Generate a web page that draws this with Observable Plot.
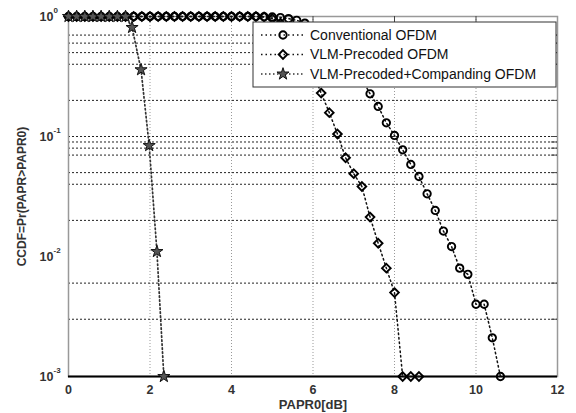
<!DOCTYPE html>
<html>
<head>
<meta charset="utf-8">
<script src="https://cdn.jsdelivr.net/npm/d3@7"></script>
<script src="https://cdn.jsdelivr.net/npm/@observablehq/plot@0.6"></script>
<style>
  html, body { margin: 0; padding: 0; background: #fff; }
  svg { display: block; }
</style>
</head>
<body>
<div id="chart"></div>
<script>
// Series names (legend order)
const seriesNames = ["Conventional OFDM", "VLM-Precoded OFDM", "VLM-Precoded+Companding OFDM"];

// Conventional OFDM: PAPR0 (dB) and CCDF
const convPapr = [0, 0.2, 0.4, 0.6, 0.8, 1.0, 1.2, 1.4, 1.6, 1.8, 2.0, 2.2, 2.4, 2.6, 2.8, 3.0, 3.2, 3.4, 3.6, 3.8,
  4.0, 4.2, 4.4, 4.6, 4.8, 5.0, 5.2, 5.4, 5.6, 5.8, 6.0, 6.2, 6.4, 6.6, 6.8, 7.0, 7.2, 7.4, 7.6, 7.8,
  8.0, 8.2, 8.4, 8.6, 8.8, 9.0, 9.2, 9.4, 9.6, 9.8, 10.0, 10.2, 10.4, 10.6];
const convCcdf = [1, 1, 1, 1, 1, 1, 1, 1, 1, 1, 1, 1, 1, 1, 1, 1, 1, 1, 1, 1,
  1, 1, 1, 1, 0.995, 0.99, 0.98, 0.96, 0.93, 0.88, 0.81, 0.73, 0.64, 0.54, 0.45, 0.37, 0.30, 0.227, 0.178, 0.130,
  0.102, 0.0775, 0.0585, 0.0464, 0.0333, 0.0242, 0.0163, 0.0121, 0.0080, 0.0071, 0.0040, 0.0040, 0.0021, 0.001];

// VLM-Precoded OFDM
const vlmPapr = [0, 0.2, 0.4, 0.6, 0.8, 1.0, 1.2, 1.4, 1.6, 1.8, 2.0, 2.2, 2.4, 2.6, 2.8, 3.0, 3.2, 3.4, 3.6, 3.8,
  4.0, 4.2, 4.4, 4.6, 4.8, 5.0, 5.2, 5.4, 5.6, 5.8, 6.0, 6.2, 6.4, 6.6, 6.8, 7.0, 7.2, 7.4, 7.6, 7.8,
  8.0, 8.2, 8.4, 8.6];
const vlmCcdf = [1, 1, 1, 1, 1, 1, 1, 1, 1, 1, 1, 1, 1, 1, 1, 1, 1, 1, 1, 1,
  1, 1, 1, 1, 0.99, 0.96, 0.88, 0.76, 0.62, 0.47, 0.34, 0.230, 0.158, 0.105, 0.0665, 0.049, 0.0383, 0.0213, 0.0129, 0.0080,
  0.0050, 0.001, 0.001, 0.001];

// VLM-Precoded + Companding OFDM
const compPapr = [0, 0.2, 0.4, 0.6, 0.8, 1.0, 1.2, 1.4, 1.56, 1.78, 1.98, 2.17, 2.34];
const compCcdf = [1, 1, 1, 1, 1, 1, 1, 1, 0.81, 0.36, 0.084, 0.011, 0.001];

// Axis ticks and grid
const xTicks = [0, 2, 4, 6, 8, 10, 12];
const xGrid = [2, 4, 6, 8, 10];
const yTicks = [1, 0.1, 0.01, 0.001];
const yExponents = ["0", "-1", "-2", "-3"];
const yGrid = [0.7, 0.6, 0.5, 0.4, 0.2, 0.1, 0.09, 0.08, 0.07, 0.05, 0.04, 0.02, 0.006, 0.003];

const toRows = (name, xs, ys) => xs.map((p, i) => ({series: name, papr: p, ccdf: ys[i]}));
const conv = toRows(seriesNames[0], convPapr, convCcdf);
const vlm = toRows(seriesNames[1], vlmPapr, vlmCcdf);
const comp = toRows(seriesNames[2], compPapr, compCcdf);

const styles = [
  {symbol: "circle", r: 3.7, fill: "none", stroke: "#000", strokeWidth: 1.9, dash: "1.5,3", lineColor: "#111", lineWidth: 1.5},
  {symbol: "diamond2", r: 3.9, fill: "none", stroke: "#000", strokeWidth: 1.9, dash: "1.5,3", lineColor: "#111", lineWidth: 1.5},
  {symbol: "star", r: 3.8, fill: "#555", stroke: "#111", strokeWidth: 1, dash: "1.5,2.5", lineColor: "#333", lineWidth: 1.7}
];
const sets = [conv, vlm, comp];

const font = "'Liberation Sans', Arial, Helvetica, sans-serif";

const chart = Plot.plot({
  width: 576,
  height: 413,
  marginLeft: 68,
  marginRight: 19,
  marginTop: 16,
  marginBottom: 37,
  style: {fontFamily: font, background: "#fff"},
  x: {domain: [0, 12], axis: null},
  y: {type: "log", domain: [0.001, 1], axis: null},
  marks: [
    // grid
    Plot.ruleX(xGrid, {stroke: "#999", strokeWidth: 1, strokeDasharray: "1,2"}),
    Plot.ruleY(yGrid, {stroke: "#222", strokeWidth: 1, strokeDasharray: "2,2"}),
    // box
    Plot.frame({stroke: "#999", strokeWidth: 1.5}),
    Plot.ruleX(xGrid, {y1: 1, y2: 0.89, stroke: "#444"}),
    Plot.ruleY(yGrid, {x1: 11.85, x2: 12, stroke: "#444"}),
    Plot.ruleY([0.001], {stroke: "#000", strokeWidth: 2}),
    // curves
    ...sets.map((d, i) => Plot.line(d, {x: "papr", y: "ccdf", stroke: styles[i].lineColor,
      strokeWidth: styles[i].lineWidth, strokeDasharray: styles[i].dash})),
    ...sets.map((d, i) => Plot.dot(d, {x: "papr", y: "ccdf", symbol: () => styles[i].symbol, r: styles[i].r,
      fill: styles[i].fill, stroke: styles[i].stroke, strokeWidth: styles[i].strokeWidth})),
    // x tick labels
    Plot.text(xTicks, {x: d => d, frameAnchor: "bottom", dy: 13, lineAnchor: "middle", textAnchor: "middle",
      text: d => String(d), fontSize: 12.5, fontWeight: "bold", fill: "#333"}),
    // y tick labels: 10 with superscript exponent
    Plot.text(yTicks, {y: d => d, frameAnchor: "left", dx: -15, textAnchor: "end", text: () => "10",
      fontSize: 12.5, fontWeight: "bold", fill: "#333"}),
    Plot.text(yTicks, {y: d => d, frameAnchor: "left", dx: -15, dy: -6, textAnchor: "start",
      text: (d, i) => yExponents[i], fontSize: 8, fontWeight: "bold", fill: "#333"}),
    // axis titles
    Plot.text(["PAPR0[dB]"], {frameAnchor: "bottom", dy: 28, lineAnchor: "middle", textAnchor: "middle",
      fontSize: 13, fontWeight: "bold", fill: "#333", letterSpacing: "0.5px"}),
    Plot.text(["CCDF=Pr(PAPR>PAPR0)"], {frameAnchor: "left", dx: -46, rotate: -90, textAnchor: "middle",
      lineAnchor: "middle", fontSize: 12, fontWeight: "bold", fill: "#333", letterSpacing: "1.2px"})
  ]
});

document.getElementById("chart").appendChild(chart);

// Legend box in the upper right of the axes
const svg = d3.select(chart);
const lg = svg.append("g").attr("font-family", font).attr("text-anchor", "start");
const box = {x: 253, y: 22, w: 303, h: 65};
lg.append("rect").attr("x", box.x).attr("y", box.y).attr("width", box.w).attr("height", box.h)
  .attr("fill", "#fff").attr("stroke", "#333").attr("stroke-width", 1);
const rowY = [35, 54.5, 74];
seriesNames.forEach((name, i) => {
  const s = styles[i];
  const y = rowY[i];
  lg.append("line").attr("x1", 261).attr("x2", 305).attr("y1", y).attr("y2", y)
    .attr("stroke", s.lineColor).attr("stroke-width", s.lineWidth).attr("stroke-dasharray", s.dash);
  const symType = {circle: d3.symbolCircle, diamond2: d3.symbolDiamond2, star: d3.symbolStar}[s.symbol];
  lg.append("path").attr("d", d3.symbol(symType, Math.PI * s.r * s.r)())
    .attr("transform", `translate(283,${y})`)
    .attr("fill", s.fill).attr("stroke", s.stroke).attr("stroke-width", s.strokeWidth);
  lg.append("text").attr("x", 310).attr("y", y).attr("dy", "0.35em").attr("text-anchor", "start")
    .attr("font-size", 14).attr("fill", "#111").text(name);
});
</script>
</body>
</html>
